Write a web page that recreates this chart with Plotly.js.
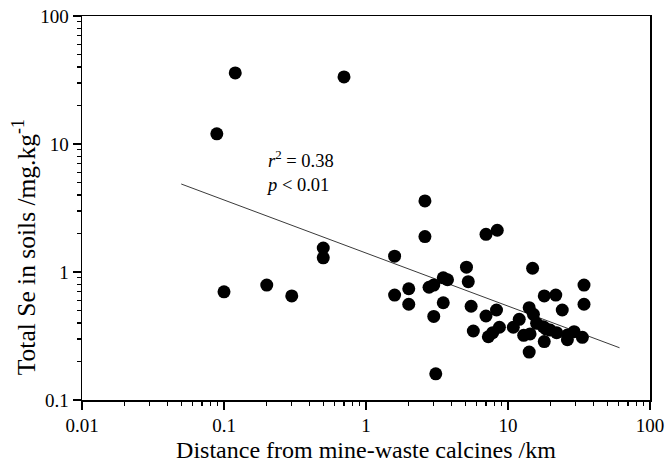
<!DOCTYPE html>
<html>
<head>
<meta charset="utf-8">
<script src="https://cdn.plot.ly/plotly-3.0.1.min.js"></script>
<style>html,body{margin:0;padding:0;background:#fff;}#chart{width:667px;height:464px;}</style>
</head>
<body>
<div id="chart"></div>
<script>
// Distance from mine-waste calcines (km)
const distanceKm = [
  0.089, 0.12, 0.70, 0.10, 0.20, 0.30, 0.50, 0.50,
  2.60, 2.60, 7.0, 8.4, 1.59, 5.1, 5.25, 14.9,
  1.59, 2.0, 2.0, 2.78, 3.0, 3.5, 3.75, 3.5, 3.0, 3.1,
  5.5, 5.7, 7.0, 8.3, 7.27, 7.8, 8.7, 10.9, 12.0,
  14.1, 15.1, 12.9, 14.3, 14.1, 15.9, 17.7, 18.5, 18.0,
  18.0, 21.7, 24.1, 19.8, 22.0, 26.2, 26.2, 29.2, 33.4, 34.3, 34.3
];
// Total Se in soils (mg/kg)
const seleniumMgKg = [
  12.0, 35.9, 33.4, 0.70, 0.79, 0.65, 1.54, 1.29,
  3.59, 1.89, 1.97, 2.12, 1.33, 1.09, 0.84, 1.07,
  0.66, 0.74, 0.56, 0.76, 0.79, 0.90, 0.87, 0.575, 0.45, 0.16,
  0.54, 0.346, 0.453, 0.505, 0.312, 0.336, 0.37, 0.37, 0.427,
  0.526, 0.467, 0.32, 0.328, 0.237, 0.397, 0.374, 0.36, 0.286,
  0.65, 0.66, 0.505, 0.352, 0.336, 0.322, 0.296, 0.342, 0.309, 0.79, 0.56
];
// Regression line end points
const fitX = [0.05, 61];
const fitY = [4.87, 0.256];

const xTickVals = [0.01, 0.1, 1, 10, 100];
const xTickText = ['0.01', '0.1', '1', '10', '100'];
const yTickVals = [0.1, 1, 10, 100];
const yTickText = ['0.1', '1', '10', '100'];

const xTitle = 'Distance from mine-waste calcines /km';
const yTitle = 'Total Se in soils /mg.kg<sup>-1</sup>';
const statsText = '<i>r</i><sup>2</sup> = 0.38<br><i>p</i> &lt; 0.01';

const font = 'Liberation Serif, Times New Roman, serif';

const traces = [
  {
    x: fitX, y: fitY, type: 'scatter', mode: 'lines',
    line: {color: '#3a3a3a', width: 1}, hoverinfo: 'skip', showlegend: false
  },
  {
    x: distanceKm, y: seleniumMgKg, type: 'scatter', mode: 'markers',
    marker: {color: '#000', size: 13}, showlegend: false
  }
];

const axisCommon = {
  type: 'log',
  showgrid: false, zeroline: false,
  showline: true, linecolor: '#000', linewidth: 1.5, mirror: true,
  ticks: 'outside', ticklen: 8, tickwidth: 1.5, tickcolor: '#000',
  tickmode: 'array',
  tickfont: {family: font, size: 19, color: '#000'},
  minor: {ticks: 'outside', ticklen: 4, tickwidth: 1.2, tickcolor: '#000', dtick: 'D1', showgrid: false}
};

const layout = {
  width: 667, height: 464,
  margin: {l: 82, r: 17, t: 16, b: 64},
  paper_bgcolor: '#fff', plot_bgcolor: '#fff',
  font: {family: font, color: '#000'},
  xaxis: Object.assign({}, axisCommon, {
    range: [-2, 2],
    tickvals: xTickVals, ticktext: xTickText,
    title: {text: xTitle, font: {family: font, size: 24, color: '#000'}, standoff: 6}
  }),
  yaxis: Object.assign({}, axisCommon, {
    range: [-1, 2],
    tickvals: yTickVals, ticktext: yTickText
  }),
  annotations: [
    {
      xref: 'paper', yref: 'paper', x: -0.101, y: 0.397,
      xanchor: 'center', yanchor: 'middle', textangle: -90,
      text: yTitle, showarrow: false,
      font: {family: font, size: 25.5, color: '#000'}
    },
    {
      xref: 'paper', yref: 'paper', x: 0.321, y: 0.665,
      xanchor: 'left', yanchor: 'top', align: 'left',
      text: statsText, showarrow: false,
      font: {family: font, size: 18.5, color: '#000'}
    }
  ]
};

Plotly.newPlot('chart', traces, layout, {displayModeBar: false, staticPlot: true});
</script>
</body>
</html>
